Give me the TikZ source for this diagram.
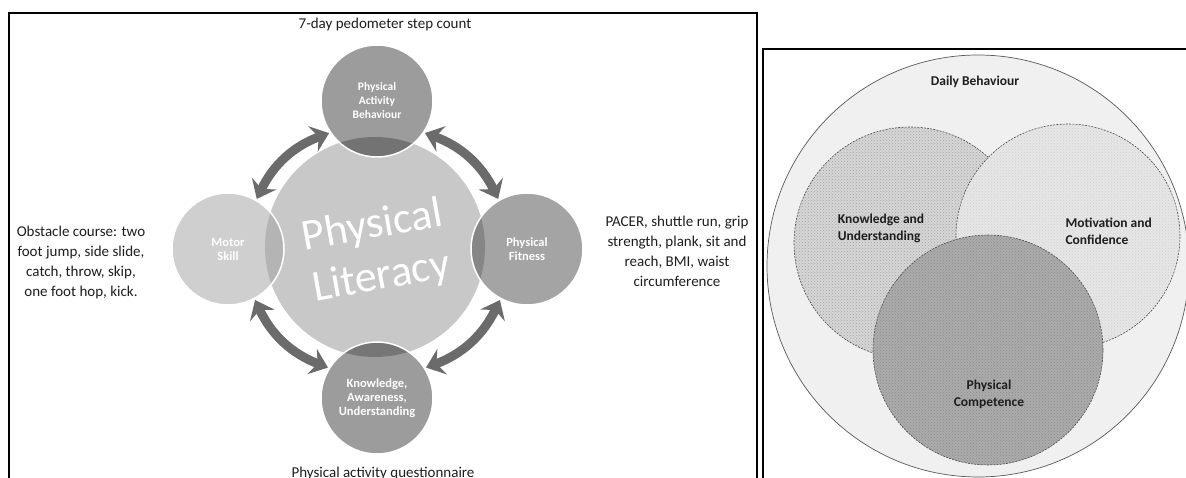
\documentclass[tikz,border=0pt]{standalone}
\usepackage{fontspec}
\setmainfont{Carlito}
\usetikzlibrary{arrows.meta,patterns}

\definecolor{centregray}{HTML}{C8C8C8}
\definecolor{pabgray}{HTML}{9C9C9C}
\definecolor{pabdark}{HTML}{737373}
\definecolor{motorgray}{HTML}{CFCFCF}
\definecolor{motordark}{HTML}{B4B4B4}
\definecolor{fitgray}{HTML}{A4A4A4}
\definecolor{fitdark}{HTML}{868686}
\definecolor{kaugray}{HTML}{9C9C9C}
\definecolor{kaudark}{HTML}{767676}
\definecolor{arrowgray}{HTML}{6B6B6B}
\definecolor{dailygray}{HTML}{F0F0F0}
\definecolor{kugray}{HTML}{D6D6D6}
\definecolor{mcgray}{HTML}{E6E6E6}
\definecolor{pcgray}{HTML}{ABABAB}
\definecolor{inkgray}{HTML}{1E1E1E}

\tikzset{
  panel/.style={line width=1.6pt, draw=black},
  hub/.style={circle, inner sep=0pt, minimum size=220pt, fill=centregray},
  % a satellite circle; its part lying inside the hub is shaded darker
  satellite/.style 2 args={circle, inner sep=0pt, minimum size=112pt, draw=white, line width=1.5pt,
    fill=#1, path picture={\fill[#2] (pl.center) circle (110pt);},
    text=white, align=center, font=\fontsize{12.5}{14}\selectfont\bfseries},
  bigword/.style={text=white, rotate=10, align=center, font=\fontsize{44}{52}\selectfont, inner sep=0pt},
  note/.style={align=center, text=inkgray, font=\fontsize{15}{20}\selectfont},
  cycle/.style={draw=arrowgray, line width=9pt,
    {Stealth[length=17pt,width=27pt,inset=6pt]}-{Stealth[length=17pt,width=27pt,inset=6pt]},
    shorten <=1pt, shorten >=1pt},
  venn/.style={circle, inner sep=0pt, draw=black!70, dash pattern=on 2pt off 1.2pt, line width=0.6pt},
  vennlabel/.style={text=inkgray, font=\fontsize{13.5}{17}\selectfont\bfseries},
}

\begin{document}
\begin{tikzpicture}[x=1pt, y=-1pt]
\useasboundingbox (0,0) rectangle (1186,478);
\fill[white] (0,0) rectangle (1186,478);

% ---------- left panel: physical literacy cycle ----------
\draw[panel] (9,495) |- (757,13) -- (757,495);

\node[hub] (pl) at (375,247) {};

\node[satellite={pabgray}{pabdark}, font=\fontsize{11.5}{14}\selectfont\bfseries] (pab) at (377,101) {Physical\\Activity\\Behaviour};
\node[satellite={motorgray}{motordark}] (ms) at (228,249) {Motor\\Skill};
\node[satellite={fitgray}{fitdark}] (pf) at (527,249) {Physical\\Fitness};
\node[satellite={kaugray}{kaudark}] (kau) at (377,398) {Knowledge,\\Awareness,\\Understanding};

\node[bigword] (plt) at (377,252) {Physical\\Literacy};

% double-headed arrows between neighbouring satellites
\draw[cycle] (pab.214) to[bend right=22] (ms.60);
\draw[cycle] (pab.326) to[bend left=22] (pf.120);
\draw[cycle] (ms.298) to[bend right=22] (kau.148);
\draw[cycle] (kau.32) to[bend right=22] (pf.242);

\node[note] (tm) at (385,25) {7-day pedometer step count};
\node[note] (mm) at (81,263) {Obstacle course: two\\foot jump, side slide,\\catch, throw, skip,\\one foot hop, kick.};
\node[note] (fm) at (677,251) {PACER, shuttle run, grip\\strength, plank, sit and\\reach, BMI, waist\\circumference};
\node[note] (km) at (383,473) {Physical activity questionnaire};

% ---------- right panel: nested domains ----------
\draw[panel] (763,495) |- (1200,49);

\node[circle, inner sep=0pt, minimum size=422pt, fill=dailygray, draw=black!65, line width=0.7pt] (db) at (978,266) {};

\fill[kugray] (910,243) circle (116pt);
\fill[pattern=crosshatch dots, pattern color=black!35] (910,243) circle (116pt);
\node[venn, minimum size=232pt] (ku) at (910,243) {};

\fill[mcgray] (1068,236) circle (112pt);
\fill[pattern=crosshatch dots, pattern color=black!18] (1068,236) circle (112pt);
\node[venn, minimum size=224pt] (mc) at (1068,236) {};

\fill[pcgray] (988,350) circle (115pt);
\fill[pattern=crosshatch dots, pattern color=black!45] (988,350) circle (115pt);
\node[venn, minimum size=230pt] (pc) at (988,350) {};

\node[vennlabel] (dbl) at (975,82) {Daily Behaviour};
\node[vennlabel, align=left] (kul) at (881,228) {Knowledge and\\Understanding};
\node[vennlabel, align=left, anchor=west] (mcl) at (1062,231) {Motivation and\\Confidence};
\node[vennlabel, align=center] (pcl) at (989,394) {Physical\\Competence};
\end{tikzpicture}
\end{document}
